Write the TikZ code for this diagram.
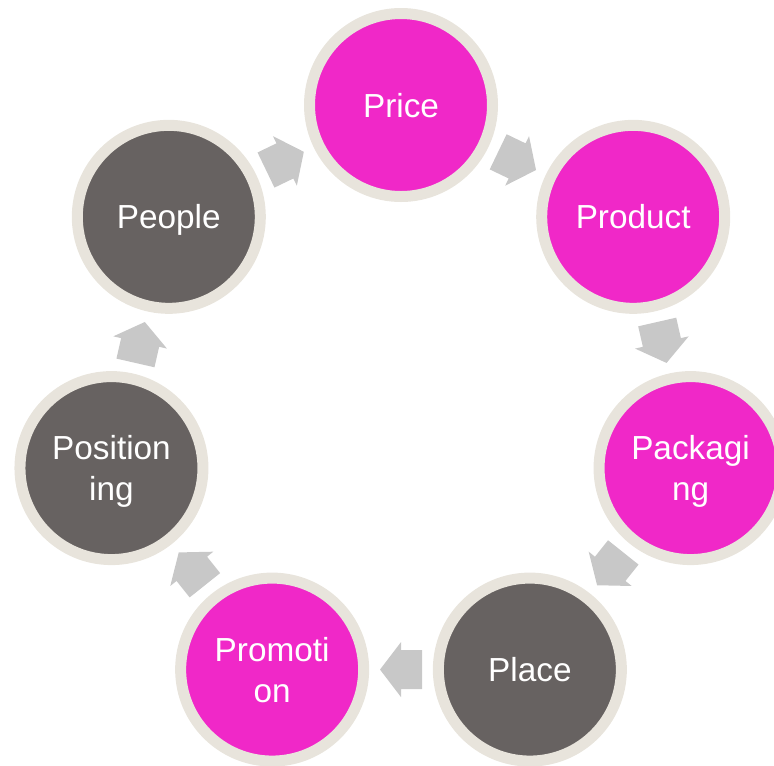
\documentclass[tikz,border=0pt]{standalone}
\usepackage{fontspec}
\setmainfont{Liberation Sans}
\usetikzlibrary{calc}
\definecolor{magentafill}{HTML}{F028C8}
\definecolor{grayfill}{HTML}{676261}
\definecolor{ringcol}{HTML}{E8E4DC}
\definecolor{arrowgray}{HTML}{C8C8C8}
\tikzset{
  ring/.style={circle, minimum size=137.25pt, inner sep=0pt, outer sep=0pt,
    line width=8.25pt, draw=ringcol, text=white, align=center, text depth=0pt,
    font=\fontsize{25}{30.75}\selectfont},
  pinkring/.style={ring, fill=magentafill},
  grayring/.style={ring, fill=grayfill},
  flowfill/.style={fill=arrowgray, draw=none}
}
\begin{document}
\begin{tikzpicture}[x=0.75pt,y=-0.75pt]
\useasboundingbox (0,0) rectangle (774,765);
\coordinate (o) at (401,402);
\node[pinkring] (price)       at ($(o)+(-90:297)$) {Price};
\node[pinkring] (product)     at ($(o)+(-90+360/7:297)$) {Product};
\node[pinkring] (packaging)   at ($(o)+(-90+720/7:297)$) {Packagi\\ng};
\node[grayring] (place)       at ($(o)+(-90+1080/7:297)$) {Place};
\node[pinkring] (promotion)   at ($(o)+(-90+1440/7:297)$) {Promoti\\on};
\node[grayring] (positioning) at ($(o)+(-90+1800/7:297)$) {Position\\ing};
\node[grayring] (people)      at ($(o)+(-90+2160/7:297)$) {People};
\foreach \a/\b in {price/product, product/packaging, packaging/place,
                   place/promotion, promotion/positioning,
                   positioning/people, people/price}{
  \pgfmathanglebetweenpoints{\pgfpointanchor{\a}{center}}{\pgfpointanchor{\b}{center}}
  \let\flowang\pgfmathresult
  \begin{scope}[shift={($(\a)!0.5!(\b)$)}, rotate=\flowang]
    \fill[flowfill] (21,0) -- (0,27.5) -- (0,19.5) -- (-21,19.5)
      -- (-21,-19.5) -- (0,-19.5) -- (0,-27.5) -- cycle;
  \end{scope}
}
\end{tikzpicture}
\end{document}
